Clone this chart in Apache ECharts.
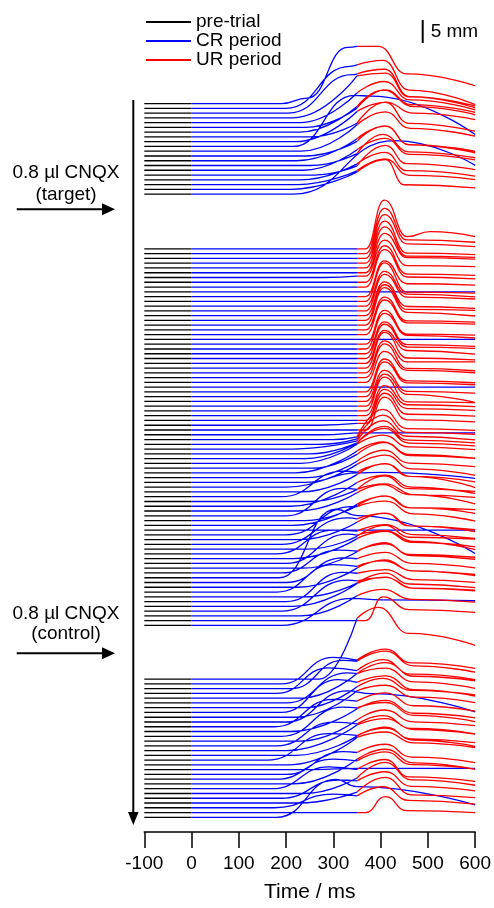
<!DOCTYPE html>
<html>
<head>
<meta charset="utf-8">
<script src="https://cdn.jsdelivr.net/npm/echarts@6/dist/echarts.min.js"></script>
<style>
  html, body { margin: 0; padding: 0; background: #fff; }
  #main { width: 494px; height: 908px; }
</style>
</head>
<body>
<div id="main"></div>
<script>
// eyelid traces: [time ms, closure mm], points after CS onset (t = 0)
const preTrial = [[-100, 0], [0, 0]];
const usOnset = 350;

const group1Trials = [
  [[190,0],[245,1.2],[330,12.3],[350,12.5],[395,12.5],[455,6.5],[600,3.9]],
  [[200,0],[335,9.2],[350,9.5],[405,10.5],[460,4.0],[600,0.8]],
  [[205,0],[340,8.4],[350,8.6],[408,9.6],[462,3.6],[600,1.5]],
  [[215,0],[350,9.2],[410,9.8],[460,4.6],[600,2.2]],
  [[230,0],[350,6.5],[408,9.0],[462,5.0],[600,2.8]],
  [[240,0],[350,4.2],[410,8.2],[465,5.0],[600,3.3]],
  [[228,0],[350,5.6],[405,9.2],[470,5.6],[600,3.8]],
  [[250,0],[350,3.0],[410,7.6],[470,5.2],[600,3.8]],
  [[220,0],[350,6.6],[410,8.6],[460,4.0],[600,2.3]],
  [[215,0],[345,11.2],[380,11.0],[600,2.6]],
  [[232,0],[350,5.8],[410,8.6],[462,5.0],[600,3.3]],
  [[242,0],[350,3.2],[410,6.6],[460,2.5],[600,1.0]],
  [[222,0],[350,4.8],[410,7.6],[460,3.5],[600,1.7]],
  [[252,0],[350,2.6],[405,6.8],[460,3.0],[600,1.7]],
  [[236,0],[350,4.5],[410,7.0],[460,3.5],[600,2.3]],
  [[260,0],[350,2.0],[410,6.5],[455,2.5],[600,1.2]],
  [[230,0],[350,3.5],[410,6.0],[455,2.0],[600,0.8]],
  [[225,0],[350,3.0],[410,5.6],[460,2.0],[600,1.1]],
  [[210,0],[350,3.8],[410,6.5],[450,1.0],[600,0.3]],
  [[215,0],[430,11.7],[600,6.3]]
];

const group2Trials = [
  [[350,0],[368,0],[408,10.7],[456,2.7],[505,3.8],[600,2.7]],
  [[350,0],[368,0],[408,9.9],[456,3.0],[600,2.5]],
  [[350,0],[368,0],[408,9.6],[456,3.2],[600,2.6]],
  [[350,0],[368,0],[408,9.2],[456,2.2],[600,1.9]],
  [[350,0],[368,0],[408,9.0],[456,2.6],[600,2.3]],
  [[350,0],[368,0],[408,8.6],[456,3.3],[600,3.0]],
  [[280,0],[350,0.3],[368,0.3],[408,8.2],[456,2.6],[600,2.4]],
  [[350,0],[368,0],[408,8.0],[456,1.8],[600,1.5]],
  [[350,0],[368,0],[408,8.2],[456,2.2],[600,1.8]],
  [[600,0]],
  [[350,0],[368,0],[408,7.8],[456,2.8],[600,2.5]],
  [[350,0],[368,0],[408,8.4],[456,2.0],[600,1.8]],
  [[350,0],[368,0],[408,7.6],[456,2.6],[600,2.0]],
  [[350,0],[368,0],[408,8.0],[456,3.0],[600,2.6]],
  [[350,0],[368,0],[408,7.4],[456,2.0],[600,1.6]],
  [[350,0],[368,0],[408,7.8],[456,2.4],[600,2.2]],
  [[350,0],[368,0],[408,8.2],[456,2.8],[600,2.0]],
  [[350,0],[368,0],[408,7.2],[456,2.0],[600,1.7]],
  [[350,0],[368,0],[408,7.6],[456,2.6],[600,2.3]],
  [[600,0]],
  [[350,0],[368,0],[408,7.4],[456,2.2],[600,2.0]],
  [[350,0],[368,0],[408,7.8],[456,3.0],[600,2.4]],
  [[350,0],[368,0],[408,7.0],[456,2.0],[600,1.6]],
  [[350,0],[368,0],[408,7.5],[456,2.5],[600,2.2]],
  [[350,0],[368,0],[408,7.2],[456,2.8],[600,2.0]],
  [[350,0],[368,0],[408,7.8],[456,2.2],[600,1.8]],
  [[350,0],[368,0],[408,7.0],[456,2.4],[600,2.4]],
  [[350,0],[368,0],[408,7.4],[456,2.0],[600,1.5]],
  [[350,0],[368,0],[408,6.8],[456,2.6],[600,2.1]],
  [[600,0]],
  [[350,0],[368,0],[408,7.2],[456,2.4],[600,2.0]],
  [[350,0],[368,0],[408,7.6],[456,3.0],[600,2.6]],
  [[350,0],[368,0],[408,6.8],[456,2.2],[600,1.8]],
  [[350,0],[368,0],[408,7.0],[456,2.6],[600,0.8]],
  [[350,0],[368,0],[408,7.4],[456,2.0],[600,1.8]],
  [[350,0],[368,0],[408,6.6],[456,2.4],[600,2.0]],
  [[350,0],[368,0],[408,6.8],[456,2.6],[600,2.2]],
  [[270,0],[350,0.4],[368,0.4],[408,7.0],[456,2.4],[600,2.0]],
  [[350,0],[368,0],[408,7.2],[456,2.2],[600,1.8]],
  [[280,0],[360,0.4],[600,0.4]],
  [[300,0],[350,0.6],[405,6.6],[455,2.4],[600,2.0]],
  [[270,0],[350,1.2],[405,6.4],[455,2.6],[600,2.2]],
  [[215,0],[350,1.8],[405,6.2],[455,2.8],[600,2.0]],
  [[250,0],[350,2.4],[408,6.0],[458,3.0],[600,2.4]],
  [[240,0],[350,3.4],[408,6.6],[460,3.4],[600,2.8]],
  [[230,0],[350,4.2],[405,6.2],[460,3.6],[600,3.0]],
  [[255,0],[350,3.0],[408,5.6],[460,3.0],[600,2.2]],
  [[220,0],[350,4.8],[405,6.8],[462,3.8],[600,3.2]],
  [[245,0],[350,3.6],[408,6.0],[460,3.2],[600,2.4]],
  [[240,0],[350,2.1],[400,2.2],[600,0.9]],
  [[200,0],[350,5.0],[410,7.0],[465,4.0],[600,2.6]],
  [[230,0],[350,3.8],[410,6.2],[460,3.4],[600,2.2]],
  [[190,0],[320,5.6],[350,5.4],[410,7.2],[465,4.4],[600,2.0]],
  [[250,0],[350,2.6],[408,5.6],[460,2.8],[600,2.2]],
  [[210,0],[350,5.2],[410,6.8],[465,4.2],[600,2.8]],
  [[225,0],[350,4.0],[405,5.8],[460,3.6],[600,3.0]],
  [[200,0],[320,6.0],[350,5.8],[410,7.0],[470,4.6],[600,2.6]],
  [[240,0],[350,3.2],[410,5.4],[460,2.8],[600,2.4]],
  [[215,0],[350,4.6],[410,6.4],[465,3.8],[600,2.6]],
  [[600,0]],
  [[200,0],[340,6.2],[350,6.2],[410,7.4],[470,4.6],[600,3.0]],
  [[230,0],[350,3.8],[410,5.8],[460,3.0],[600,2.2]],
  [[190,0],[330,5.8],[350,5.6],[410,6.8],[465,4.0],[600,2.8]],
  [[245,0],[350,2.8],[410,5.2],[460,2.6],[600,2.2]],
  [[180,0],[300,5.2],[350,5.0],[410,6.4],[470,4.2],[600,3.4]],
  [[215,0],[350,4.4],[410,6.0],[465,3.6],[600,2.6]],
  [[200,0],[330,6.4],[350,6.2],[410,7.2],[470,4.8],[600,3.0]],
  [[235,0],[350,3.6],[410,5.6],[460,3.0],[600,2.4]],
  [[190,0],[310,5.0],[350,4.8],[410,6.4],[465,3.8],[600,3.0]],
  [[185,0],[305,15.0],[350,13.6],[600,5.3]],
  [[200,0],[320,5.4],[350,5.2],[410,6.6],[465,4.2],[600,3.2]],
  [[225,0],[350,4.2],[410,6.0],[465,3.6],[600,2.8]],
  [[180,0],[300,6.0],[350,5.6],[405,6.8],[470,4.6],[600,3.6]],
  [[240,0],[350,3.0],[410,5.2],[460,2.8],[600,2.0]],
  [[200,0],[320,6.4],[350,6.2],[410,7.0],[470,4.8],[600,4.2]],
  [[215,0],[350,5.0],[410,6.4],[465,4.0],[600,3.4]],
  [[190,0],[330,6.8],[350,6.6],[410,7.4],[470,5.0],[600,4.6]],
  [[230,0],[350,4.4],[405,5.8],[465,3.6],[600,3.0]],
  [[350,0],[368,0],[405,5.2],[460,2.4],[600,1.8]],
  [[190,0],[340,5.9],[400,5.6],[600,5.4]]
];

const group3Trials = [
  [[270,0],[350,13.3],[395,15.7],[460,10.0],[600,7.4]],
  [[190,0],[300,5.8],[350,5.2],[410,7.6],[465,4.6],[600,3.4]],
  [[210,0],[320,6.2],[350,6.0],[410,8.2],[470,5.0],[600,3.6]],
  [[180,0],[290,5.6],[350,5.0],[405,7.4],[465,4.2],[600,3.0]],
  [[230,0],[350,5.4],[410,7.8],[470,4.8],[600,3.8]],
  [[200,0],[330,6.6],[350,6.4],[410,7.6],[470,4.6],[600,3.2]],
  [[240,0],[350,4.6],[405,6.4],[465,3.8],[600,2.8]],
  [[190,0],[310,7.2],[350,6.6],[410,8.0],[470,5.0],[600,3.6]],
  [[220,0],[350,5.8],[410,7.0],[470,4.4],[600,3.2]],
  [[200,0],[330,6.8],[380,6.2],[600,2.2]],
  [[175,0],[300,6.0],[350,5.6],[410,7.4],[470,4.6],[600,3.4]],
  [[210,0],[350,5.0],[410,6.8],[470,4.0],[600,3.0]],
  [[190,0],[320,6.4],[350,6.2],[410,7.4],[470,4.6],[600,3.2]],
  [[230,0],[350,4.6],[408,6.8],[470,4.2],[600,3.4]],
  [[180,0],[300,5.2],[350,4.8],[405,6.6],[465,3.8],[600,2.6]],
  [[200,0],[350,5.6],[410,7.0],[470,4.6],[600,3.6]],
  [[220,0],[350,4.2],[410,6.2],[465,3.6],[600,2.8]],
  [[160,0],[290,5.8],[350,5.4],[410,7.0],[470,4.4],[600,3.0]],
  [[205,0],[350,6.0],[410,7.2],[470,4.8],[600,3.8]],
  [[260,0],[350,0.3],[600,0.3]],
  [[200,0],[320,5.0],[350,4.8],[410,6.6],[465,3.8],[600,2.6]],
  [[180,0],[300,4.4],[350,4.0],[410,6.0],[465,3.2],[600,2.2]],
  [[215,0],[350,5.4],[410,7.6],[470,4.6],[600,3.2]],
  [[170,0],[290,4.8],[350,4.2],[410,6.4],[460,2.6],[600,1.6]],
  [[240,0],[350,3.4],[410,6.8],[465,3.0],[600,1.8]],
  [[190,0],[310,4.0],[350,3.8],[410,5.8],[465,2.6],[600,1.6]],
  [[225,0],[350,2.4],[410,5.6],[465,1.8],[600,1.2]],
  [[175,0],[300,3.0],[350,2.6],[405,4.6],[460,1.6],[600,0.8]],
  [[350,0],[368,0],[410,3.5],[455,0.4],[600,0]],
  [[180,0],[305,8.3],[350,6.7],[600,2.7]]
];

// CS-alone trials (no US) per group, by trial index
const csAloneTrials = [
  [9, 19],
  [9, 19, 29, 39, 49, 59, 69, 79],
  [9, 19, 29]
];
const legendNames = ['pre-trial', 'CR period', 'UR period'];

// layout (pixels)
const groupTopPx = [104.3, 250.7, 684];
const trialStepPx = 4.8;
const pxPerMm = 4.6;
const plotBottomPx = 838;
const fontFamily = '"Liberation Sans", Arial, sans-serif';

const gap = ['-', '-'];
const blackData = [], blueData = [], redData = [];
[group1Trials, group2Trials, group3Trials].forEach(function (trials, g) {
  trials.forEach(function (pts, i) {
    const base = -(groupTopPx[g] + i * trialStepPx);
    const toY = function (p) { return [p[0], base + p[1] * pxPerMm]; };
    const csAlone = csAloneTrials[g].indexOf(i) >= 0;
    blackData.push.apply(blackData, preTrial.map(toY));
    blackData.push(gap);
    const cr = [preTrial[preTrial.length - 1]].concat(
      pts.filter(function (p) { return csAlone || p[0] <= usOnset; }));
    blueData.push.apply(blueData, cr.map(toY));
    blueData.push(gap);
    if (!csAlone) {
      redData.push.apply(redData, pts.filter(function (p) { return p[0] >= usOnset; }).map(toY));
      redData.push(gap);
    }
  });
});

function traceSeries(name, color, data) {
  return {
    name: name,
    type: 'line',
    data: data,
    color: color,
    symbol: 'none',
    smooth: 0.5,
    smoothMonotone: 'x',
    connectNulls: false,
    silent: true,
    lineStyle: { color: color, width: 1.3 }
  };
}

const myChart = echarts.init(document.getElementById('main'));
const option = {
  animation: false,
  backgroundColor: '#fff',
  grid: { left: 144.3, right: 14.7, top: 0, bottom: 908 - plotBottomPx },
  legend: {
    data: legendNames,
    orient: 'vertical',
    left: 146,
    top: 12.5,
    padding: 0,
    icon: 'rect',
    itemWidth: 45,
    itemHeight: 2,
    itemGap: 0,
    selectedMode: false,
    textStyle: { fontSize: 19, lineHeight: 18.7, color: '#000', fontFamily: fontFamily }
  },
  xAxis: {
    type: 'value',
    min: -100,
    max: 600,
    interval: 100,
    name: 'Time / ms',
    nameLocation: 'middle',
    nameGap: 50,
    nameTextStyle: { fontSize: 21, color: '#000', fontFamily: fontFamily },
    axisLine: { onZero: false, lineStyle: { color: '#000', width: 1.5 } },
    axisTick: { length: 16, lineStyle: { color: '#000', width: 1.5 } },
    axisLabel: { fontSize: 19, color: '#000', margin: 22, fontFamily: fontFamily },
    splitLine: { show: false }
  },
  yAxis: { type: 'value', min: -plotBottomPx, max: 0, show: false },
  series: [
    traceSeries(legendNames[0], '#000000', blackData),
    traceSeries(legendNames[1], '#0000ff', blueData),
    traceSeries(legendNames[2], '#ff0000', redData)
  ],
  graphic: [
    // 5 mm scale bar
    { type: 'line', shape: { x1: 422.7, y1: 20, x2: 422.7, y2: 20 + 5 * pxPerMm }, style: { stroke: '#000', lineWidth: 2 } },
    { type: 'text', x: 430.7, y: 32, style: { text: '5 mm', font: '19px ' + fontFamily, fill: '#000', verticalAlign: 'middle' } },
    // trial order arrow
    { type: 'line', shape: { x1: 133.3, y1: 100, x2: 133.3, y2: 814 }, style: { stroke: '#000', lineWidth: 2 } },
    { type: 'polygon', shape: { points: [[128, 812], [138.6, 812], [133.3, 825]] }, style: { fill: '#000' } },
    // injection markers
    { type: 'line', shape: { x1: 16.7, y1: 209.3, x2: 104, y2: 209.3 }, style: { stroke: '#000', lineWidth: 2 } },
    { type: 'polygon', shape: { points: [[102, 203.3], [102, 215.3], [115, 209.3]] }, style: { fill: '#000' } },
    { type: 'line', shape: { x1: 16.7, y1: 653.3, x2: 104, y2: 653.3 }, style: { stroke: '#000', lineWidth: 2 } },
    { type: 'polygon', shape: { points: [[102, 647.3], [102, 659.3], [115, 653.3]] }, style: { fill: '#000' } },
    { type: 'text', x: 66, y: 173, style: { text: '0.8 \u00b5l CNQX', font: '19px ' + fontFamily, fill: '#000', align: 'center', verticalAlign: 'middle' } },
    { type: 'text', x: 66, y: 195, style: { text: '(target)', font: '19px ' + fontFamily, fill: '#000', align: 'center', verticalAlign: 'middle' } },
    { type: 'text', x: 66, y: 614, style: { text: '0.8 \u00b5l CNQX', font: '19px ' + fontFamily, fill: '#000', align: 'center', verticalAlign: 'middle' } },
    { type: 'text', x: 66, y: 633.5, style: { text: '(control)', font: '19px ' + fontFamily, fill: '#000', align: 'center', verticalAlign: 'middle' } }
  ]
};
myChart.setOption(option);
</script>
</body>
</html>
